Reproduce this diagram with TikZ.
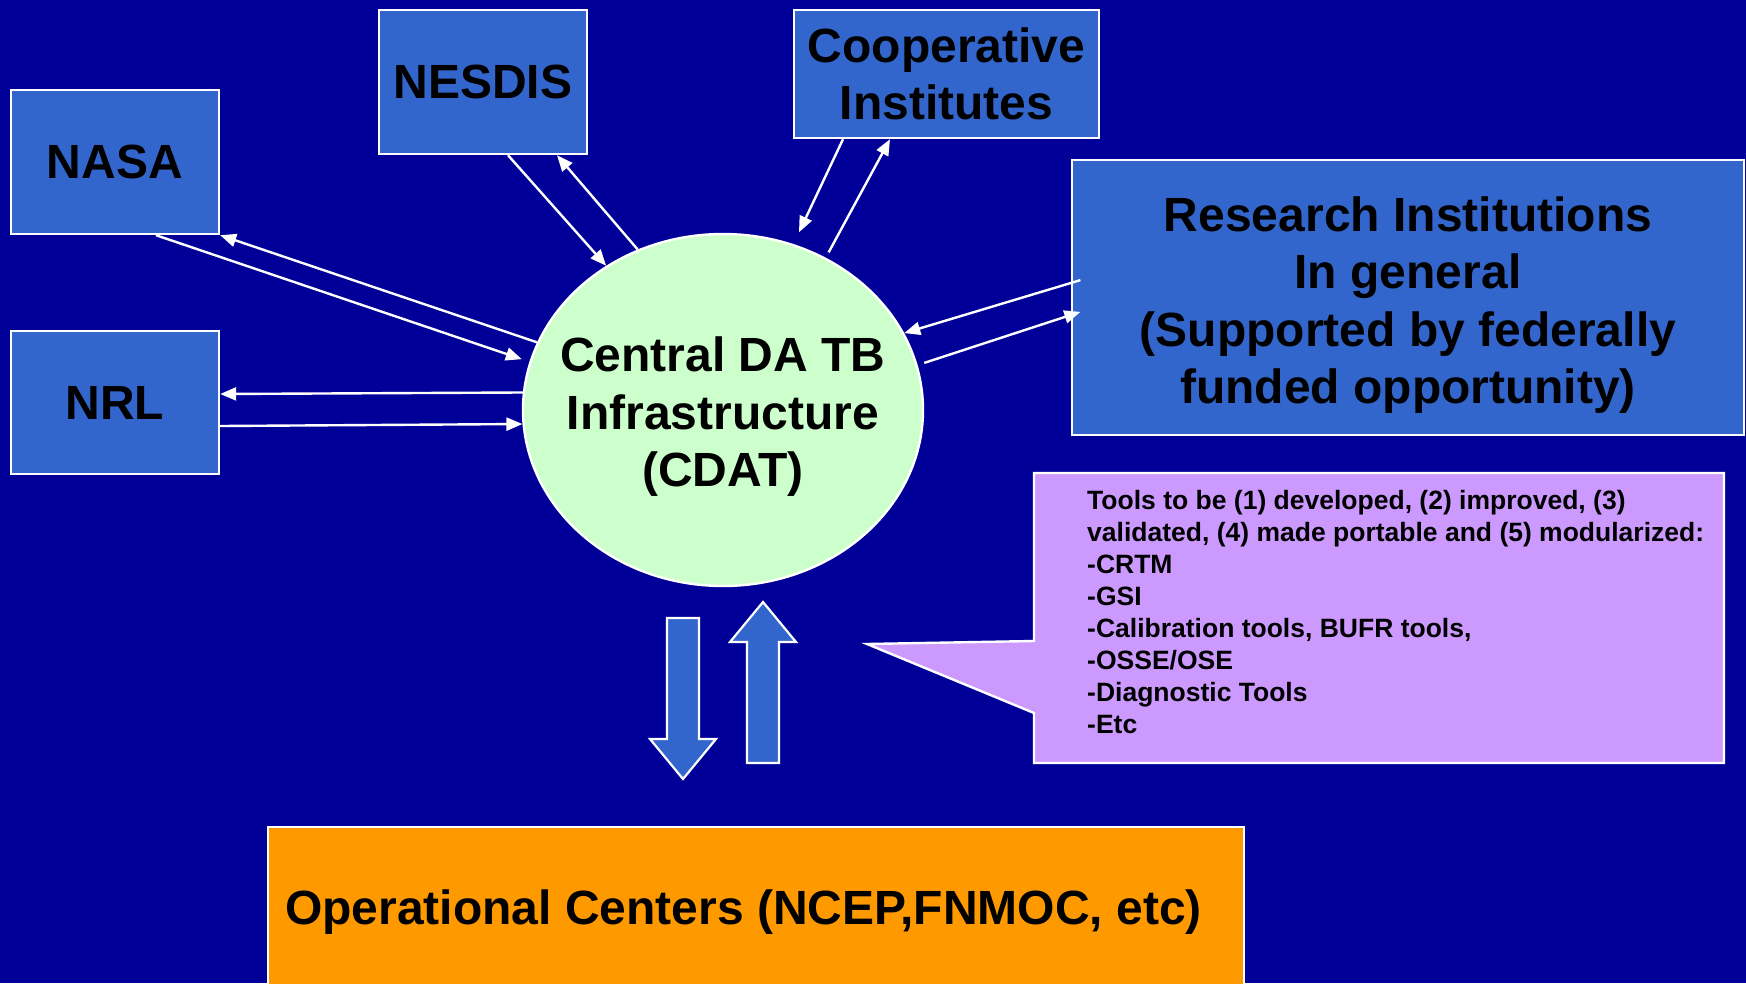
\documentclass[tikz,border=0pt]{standalone}
\usepackage{fontspec}
\setmainfont{Liberation Sans}
\usetikzlibrary{arrows.meta,shapes.geometric}
\definecolor{bgblue}{HTML}{000099}
\definecolor{boxblue}{HTML}{3366CC}
\definecolor{paleGreen}{HTML}{CCFFCC}
\definecolor{lilac}{HTML}{CC99FF}
\definecolor{amber}{HTML}{FF9900}

\begin{document}
\begin{tikzpicture}[x=1pt,y=-1pt,
  bigtext/.style={font=\fontsize{48}{57.5}\selectfont\bfseries, text=black, align=center},
  agency/.style={draw=white, line width=2.4pt, fill=boxblue, inner sep=0pt, bigtext},
  link/.style={draw=white, line width=2.4pt, -{Triangle[length=16pt,width=13pt]}},
  blockarrow/.style={draw=white, line width=2.2pt, fill=boxblue, line join=miter}
]
\useasboundingbox (0,0) rectangle (1746,983);
\clip (0,0) rectangle (1746,983);
\fill[bgblue] (0,0) rectangle (1746,983);

% partner boxes
\node[agency, minimum width=208pt, minimum height=144pt] (nasa) at (115,162) {NASA};
\node[agency, minimum width=208pt, minimum height=143pt] (nrl) at (115,402.5) {NRL};
\node[agency, minimum width=208pt, minimum height=144pt] (nesdis) at (483,82) {NESDIS};
\node[agency, minimum width=305pt, minimum height=128pt] (coop) at (946.5,74) {Cooperative\\Institutes};
\node[draw=white, line width=2.4pt, fill=boxblue, inner sep=0pt,
      minimum width=672pt, minimum height=275pt] (research) at (1408,297.5) {};
\node[bigtext] (researchtext) at (1408,305)
  {Research Institutions\\In general\\(Supported by federally\\funded opportunity)};

% central infrastructure
\node[ellipse, draw=white, line width=2.4pt, fill=paleGreen, inner sep=0pt,
      minimum width=400pt, minimum height=352pt] (cdat) at (723,410) {};
\node[bigtext] (cdattext) at (723,417) {Central DA TB\\Infrastructure\\(CDAT)};

% two-way links
\draw[link, shorten >=8pt] ([xshift=41pt]nasa.south) -- (cdat.166.6);
\draw[link] (cdat.160.2) -- (nasa.south east);
\draw[link] (cdat.175.4) -- ([yshift=8.5pt]nrl.east);
\draw[link] ([yshift=-23.5pt]nrl.east) -- (cdat.184.6);
\draw[link] ([xshift=25pt]nesdis.south) -- (cdat.129.8);
\draw[link] (cdat.118.8) -- ([xshift=74pt]nesdis.south);
\draw[link, shorten >=13pt] ([xshift=-103.5pt]coop.south) -- (cdat.67.1);
\draw[link, shorten <=6pt] (cdat.56.8) -- ([xshift=-56.5pt]coop.south);
\draw[link, shorten <=-10pt] ([yshift=14.5pt]research.west) -- (cdat.23.5);
\draw[link, shorten <=7pt, shorten >=-10pt] (cdat.13.8) -- ([yshift=-17.5pt]research.west);

% tools callout
\draw[draw=white, line width=2.4pt, fill=lilac, line join=miter]
  (1034,473) -- (1724,473) -- (1724,763) -- (1034,763) -- (1034,713)
  -- (867,644) -- (1034,641) -- cycle;
\node[anchor=north west, inner sep=0pt, align=left, text=black,
      font=\fontsize{26.5}{32}\selectfont\bfseries] (tools) at (1087,490.5)
  {Tools to be (1) developed, (2) improved, (3)\\
   validated, (4) made portable and (5) modularized:\\
   -CRTM\\-GSI\\-Calibration tools, BUFR tools,\\-OSSE/OSE\\-Diagnostic Tools\\-Etc};

% block arrows to and from operations
\draw[blockarrow] (667,618) -- (699,618) -- (699,739) -- (716,739) -- (683,779)
  -- (650,739) -- (667,739) -- cycle;
\draw[blockarrow] (747,763) -- (779,763) -- (779,642) -- (796,642) -- (763,602)
  -- (730,642) -- (747,642) -- cycle;

% operational centers
\node[draw=white, line width=2.4pt, fill=amber, inner sep=0pt, anchor=north west,
      minimum width=976pt, minimum height=200pt] (ops) at (267,826) {};
\node[bigtext, anchor=base west, inner sep=0pt] (opstext) at (285,924)
  {Operational Centers (NCEP,FNMOC, etc)};
\end{tikzpicture}
\end{document}
